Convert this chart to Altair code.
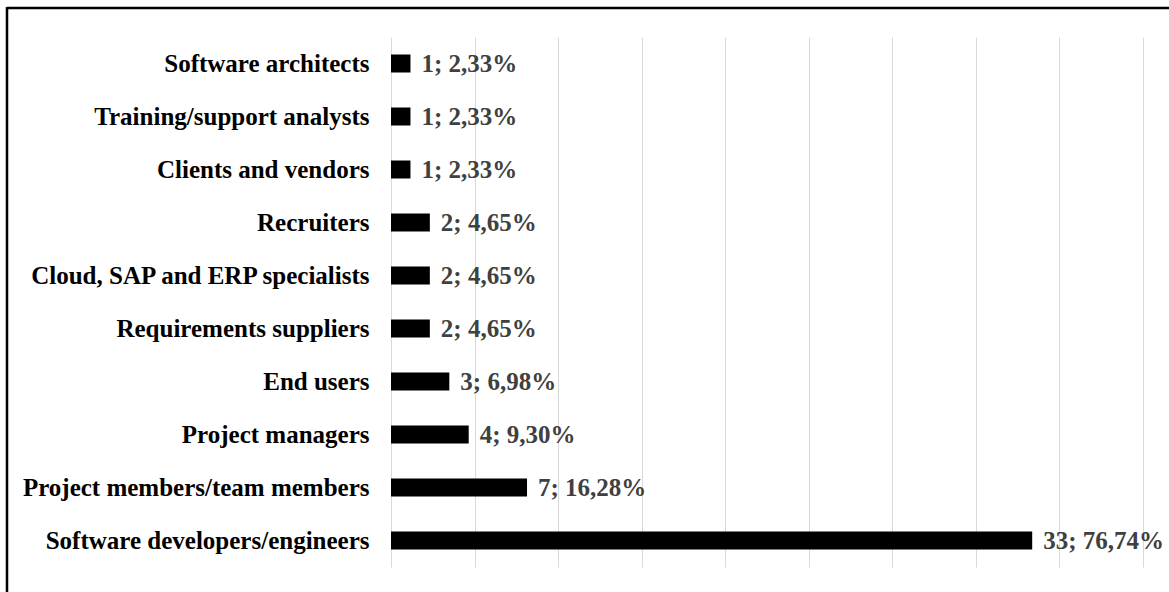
import altair as alt
import pandas as pd

categories = [
    "Software architects",
    "Training/support analysts",
    "Clients and vendors",
    "Recruiters",
    "Cloud, SAP and ERP specialists",
    "Requirements suppliers\u2005",
    "End users",
    "Project managers",
    "Project members/team members",
    "Software developers/engineers",
]
counts = [1, 1, 1, 2, 2, 2, 3, 4, 7, 33]
percents = [2.33, 2.33, 2.33, 4.65, 4.65, 4.65, 6.98, 9.30, 16.28, 76.74]

df = pd.DataFrame({"category": categories, "count": counts, "pct": percents})
df["label"] = [f"{c}; {p:.2f}%".replace(".", ",") for c, p in zip(counts, percents)]

FONT = "Liberation Serif"
FS = 25

y_enc = alt.Y(
    "category:N",
    sort=categories,
    scale=alt.Scale(paddingInner=0, paddingOuter=0),
    axis=alt.Axis(
        title=None,
        domain=False,
        ticks=False,
        labelPadding=22,
        labelFont=FONT,
        labelFontWeight="bold",
        labelFontSize=FS,
        labelColor="#000000",
        labelLimit=500,
    ),
)
x_enc = alt.X(
    "pct:Q",
    scale=alt.Scale(domain=[0, 90], nice=False),
    axis=alt.Axis(
        title=None,
        values=[0, 10, 20, 30, 40, 50, 60, 70, 80, 90],
        labels=False,
        ticks=False,
        domain=False,
        grid=True,
        gridColor="#d9d9d9",
        gridWidth=1,
    ),
)

base = alt.Chart(df)
bars = base.mark_bar(size=18, color="#000000").encode(x=x_enc, y=y_enc)
texts = base.mark_text(
    align="left",
    baseline="middle",
    dx=11,
    font=FONT,
    fontWeight="bold",
    fontSize=FS,
    color="#404040",
).encode(x="pct:Q", y=alt.Y("category:N", sort=categories), text="label:N")

frame_data = alt.Data(values=[{"k": 1}])
top_rule = alt.Chart(frame_data).mark_rule(color="#000000", strokeWidth=2.5).encode(
    x=alt.value(-384), x2=alt.value(800), y=alt.value(-29)
)
left_rule = alt.Chart(frame_data).mark_rule(color="#000000", strokeWidth=2.5).encode(
    x=alt.value(-384), y=alt.value(-30), y2=alt.value(600)
)

chart = (
    alt.layer(bars, texts, top_rule, left_rule)
    .properties(
        width=752,
        height=530,
        autosize=alt.AutoSizeParams(type="none"),
        padding={"left": 391, "top": 37, "right": 26, "bottom": 25},
        background="#ffffff",
    )
    .configure_view(stroke=None)
)

chart.save("out.html", embed_options={"renderer": "svg", "actions": False})
